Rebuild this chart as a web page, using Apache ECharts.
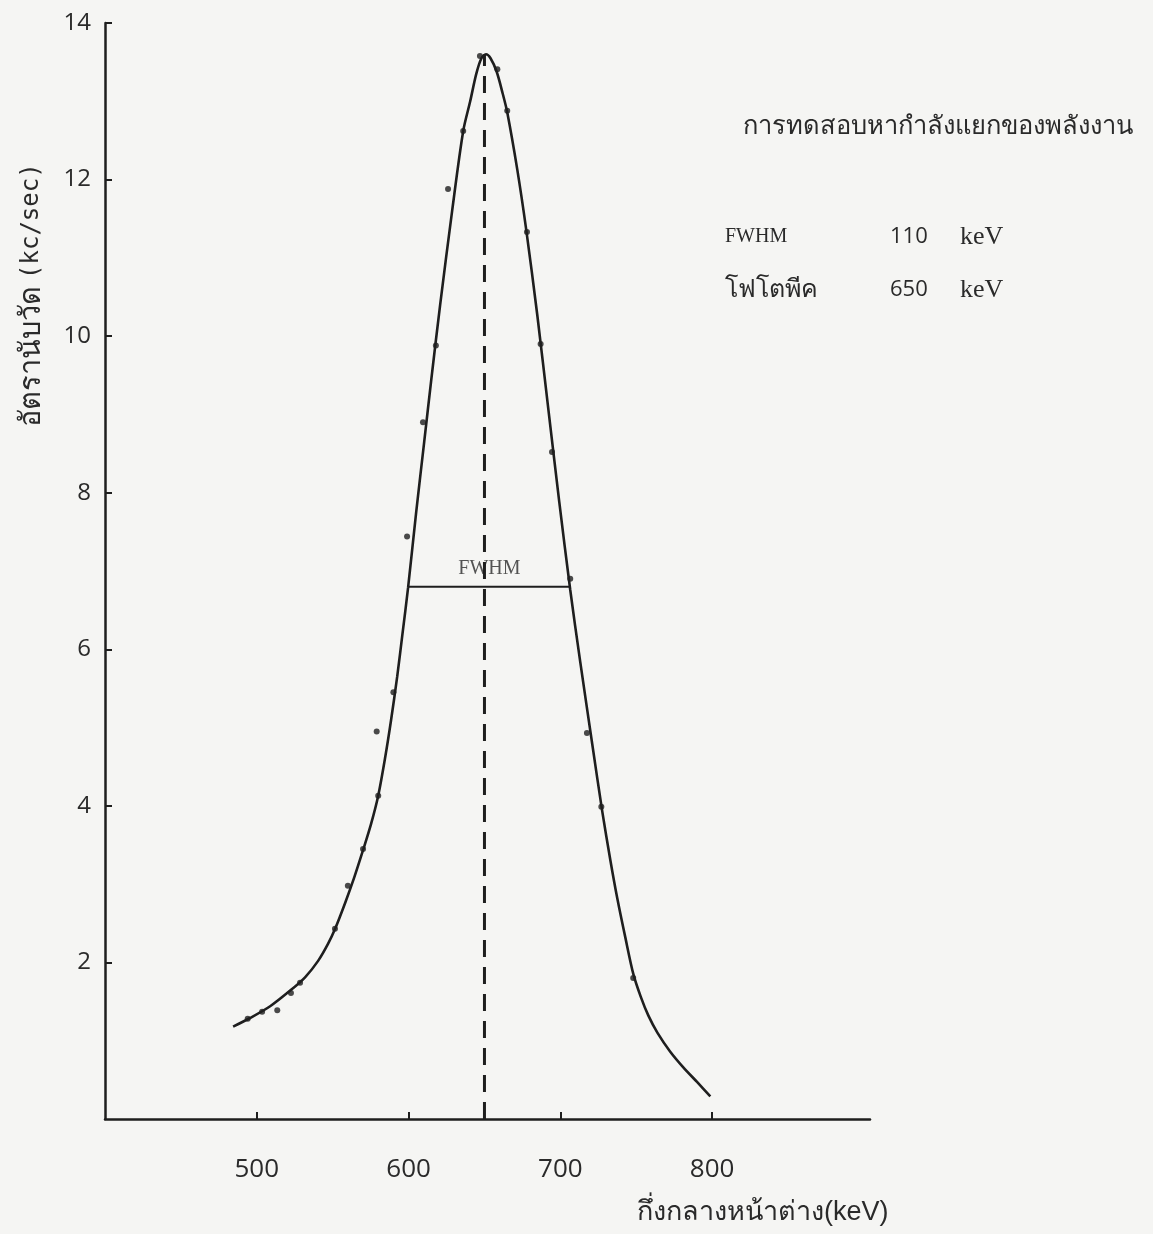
<!DOCTYPE html>
<html>
<head>
<meta charset="utf-8">
<title>FWHM</title>
<script src="https://cdn.jsdelivr.net/npm/echarts@6/dist/echarts.min.js"></script>
<style>
  html, body { margin: 0; padding: 0; background: #f5f5f3; }
  #chart { width: 1153px; height: 1234px; }
</style>
</head>
<body>
<div id="chart"></div>
<script>
// เส้นโค้งที่ลากผ่านจุด (keV, kc/sec)
const curveX = [484.4, 495.6, 508.8, 522.0, 531.8, 540.4, 547.0, 551.6, 558.2, 564.1, 570.1, 575.3, 580.0, 584.6,
  588.5, 592.5, 596.0, 599.7, 605.0, 610.3, 615.0, 620.8, 628.7, 636.0, 640.6, 644.6, 648.0, 651.0,
  654.0, 658.0, 662.0, 665.0, 671.6, 677.5, 684.8, 692.0, 699.3, 706.5, 713.1, 721.0, 727.6, 733.0,
  737.5, 742.8, 748.1, 753.0, 758.0, 764.0, 772.4, 781.0, 790.2, 798.8];
const curveY = [1.18, 1.29, 1.44, 1.64, 1.81, 2.02, 2.24, 2.43, 2.76, 3.08, 3.44, 3.77, 4.13, 4.62,
  5.10, 5.65, 6.20, 6.79, 7.75, 8.65, 9.45, 10.40, 11.60, 12.62, 13.0, 13.35, 13.55, 13.6,
  13.55, 13.38, 13.1, 12.86, 12.13, 11.36, 10.27, 9.08, 7.88, 6.76, 5.84, 4.79, 3.93, 3.30,
  2.82, 2.32, 1.85, 1.56, 1.32, 1.10, 0.86, 0.66, 0.47, 0.29];

// จุดข้อมูลที่วัดได้
const dotX = [494, 503.5, 513.5, 522.5, 528.5, 551.5, 560, 570, 580, 579, 590, 599, 609.5, 618, 626, 636, 647,
  658.5, 665, 678, 687, 694.5, 706.5, 717.5, 727, 748];
const dotY = [1.28, 1.37, 1.39, 1.61, 1.74, 2.43, 2.98, 3.45, 4.13, 4.95, 5.45, 7.44, 8.9, 9.88, 11.88, 12.62, 13.58,
  13.41, 12.88, 11.33, 9.9, 8.52, 6.9, 4.93, 3.99, 1.8];

const yTicks = [2, 4, 6, 8, 10, 12, 14];
const xTicks = [500, 600, 700, 800];

const peakX = 650;
const peakY = 13.6;
const fwhmLeft = 600;
const fwhmRight = 706.5;
const halfMax = 6.8;

const ink = '#1e1e1e';
const textColor = '#2a2a2a';
const chart = echarts.init(document.getElementById('chart'));

const option = {
  backgroundColor: '#f5f5f3',
  animation: false,
  grid: { left: 105, right: 283, top: 23, bottom: 115 },
  xAxis: {
    type: 'value',
    min: 400,
    max: 904,
    interval: 100,
    axisLine: { lineStyle: { color: ink, width: 2.5 } },
    axisTick: { inside: true, length: 7, customValues: xTicks, lineStyle: { color: ink, width: 2 } },
    axisLabel: {
      customValues: xTicks,
      margin: 38,
      fontSize: 26,
      color: textColor,
      fontFamily: 'Open Sans'
    },
    splitLine: { show: false }
  },
  yAxis: {
    type: 'value',
    min: 0,
    max: 14,
    interval: 2,
    axisLine: { show: true, lineStyle: { color: ink, width: 2.5 } },
    axisTick: { show: true, inside: true, length: 7, customValues: yTicks, lineStyle: { color: ink, width: 2 } },
    axisLabel: {
      customValues: yTicks,
      margin: 14,
      fontSize: 24,
      color: textColor,
      fontFamily: 'Open Sans'
    },
    splitLine: { show: false }
  },
  series: [
    {
      type: 'line',
      data: curveX.map((x, i) => [x, curveY[i]]),
      smooth: 0.3,
      showSymbol: false,
      lineStyle: { color: ink, width: 2.6 }
    },
    {
      type: 'scatter',
      data: dotX.map((x, i) => [x, dotY[i]]),
      symbolSize: 6,
      itemStyle: { color: ink }
    },
    {
      // เส้นประที่โฟโตพีค
      type: 'line',
      data: [[peakX, 0], [peakX, peakY]],
      showSymbol: false,
      lineStyle: { color: ink, width: 3, type: [17, 10] }
    },
    {
      // เส้น FWHM
      type: 'line',
      data: [[fwhmLeft, halfMax], [fwhmRight, halfMax]],
      showSymbol: false,
      lineStyle: { color: ink, width: 2 }
    },
    {
      type: 'scatter',
      data: [[(fwhmLeft + fwhmRight) / 2, halfMax]],
      symbolSize: 0,
      label: {
        show: true,
        position: 'top',
        distance: 8,
        formatter: 'FWHM',
        fontFamily: 'Liberation Serif',
        fontSize: 20,
        color: textColor
      }
    }
  ],
  graphic: [
    {
      type: 'text', x: 743, y: 127,
      style: { text: 'การทดสอบหากำลังแยกของพลังงาน', fontSize: 25.5, fill: textColor, verticalAlign: 'middle' }
    },
    { type: 'text', x: 725, y: 237, style: { text: 'FWHM', fontSize: 20, fontFamily: 'Liberation Serif', fill: textColor, verticalAlign: 'middle' } },
    { type: 'text', x: 890, y: 237, style: { text: '110', fontSize: 22, fontFamily: 'Open Sans', fill: textColor, verticalAlign: 'middle' } },
    { type: 'text', x: 960, y: 237, style: { text: 'keV', fontSize: 26, fontFamily: 'Liberation Serif', fill: textColor, verticalAlign: 'middle' } },
    { type: 'text', x: 725, y: 290, style: { text: 'โฟโตพีค', fontSize: 25, fill: textColor, verticalAlign: 'middle' } },
    { type: 'text', x: 890, y: 290, style: { text: '650', fontSize: 22, fontFamily: 'Open Sans', fill: textColor, verticalAlign: 'middle' } },
    { type: 'text', x: 960, y: 290, style: { text: 'keV', fontSize: 26, fontFamily: 'Liberation Serif', fill: textColor, verticalAlign: 'middle' } },
    { type: 'text', x: 637, y: 1213, style: { text: 'กึ่งกลางหน้าต่าง(keV)', fontSize: 27, fill: textColor, verticalAlign: 'middle' } },
    {
      type: 'text', x: 32, y: 295, rotation: Math.PI / 2,
      style: {
        text: '{t|อัตรานับวัด}  {u|(kc/sec)}',
        align: 'center',
        verticalAlign: 'middle',
        rich: {
          t: { fontSize: 29, fill: textColor },
          u: { fontSize: 24, fontFamily: 'DejaVu Sans Mono', fill: textColor }
        }
      }
    }
  ]
};

chart.setOption(option);
</script>
</body>
</html>
